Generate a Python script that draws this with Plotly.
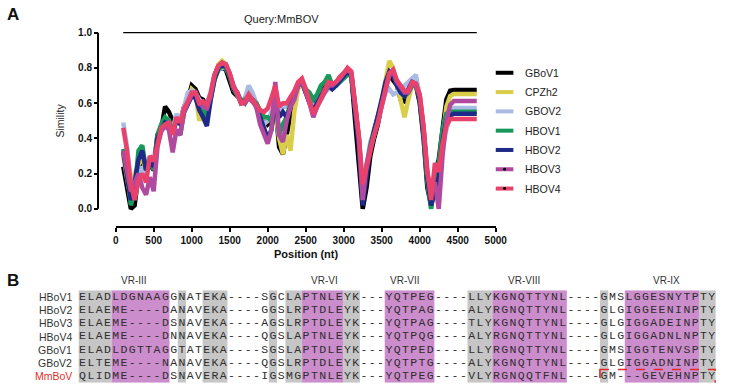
import plotly.graph_objects as go

W, H = 736, 389

# ---------------- Panel A data ----------------
POSITION = [100, 150, 200, 250, 300, 350, 400, 450, 500, 550,
            600, 650, 700, 750, 800, 850, 900, 950, 1000, 1050,
            1100, 1150, 1200, 1250, 1300, 1350, 1400, 1450, 1500, 1550,
            1600, 1650, 1700, 1750, 1800, 1850, 1900, 1950, 2000, 2050,
            2100, 2150, 2200, 2250, 2300, 2350, 2400, 2450, 2500, 2550,
            2600, 2650, 2700, 2750, 2800, 2850, 2900, 2950, 3000, 3050,
            3100, 3150, 3200, 3250, 3300, 3350, 3400, 3450, 3500, 3550,
            3600, 3650, 3700, 3750, 3800, 3850, 3900, 3950, 4000, 4050,
            4100, 4150, 4200, 4250, 4300, 4350, 4400, 4450, 4750]

GBOV1 = [0.24, 0.12, 0.00, 0.02, 0.20, 0.30, 0.22, 0.25, 0.22, 0.42,
         0.45, 0.58, 0.55, 0.50, 0.52, 0.50, 0.58, 0.62, 0.70, 0.68,
         0.63, 0.62, 0.58, 0.64, 0.74, 0.79, 0.80, 0.79, 0.72, 0.66,
         0.64, 0.62, 0.60, 0.64, 0.61, 0.60, 0.55, 0.52, 0.48, 0.50,
         0.60, 0.35, 0.31, 0.42, 0.55, 0.66, 0.70, 0.72, 0.66, 0.64,
         0.58, 0.62, 0.66, 0.69, 0.71, 0.70, 0.72, 0.74, 0.76, 0.79,
         0.76, 0.50, 0.28, 0.00, 0.12, 0.30, 0.40, 0.48, 0.60, 0.70,
         0.76, 0.73, 0.70, 0.62, 0.61, 0.66, 0.72, 0.70, 0.60, 0.40,
         0.12, 0.02, 0.20, 0.28, 0.45, 0.62, 0.67, 0.674, 0.674]

CPZH2 = [0.30, 0.18, 0.05, 0.20, 0.25, 0.30, 0.20, 0.28, 0.24, 0.40,
         0.44, 0.48, 0.47, 0.44, 0.50, 0.50, 0.56, 0.60, 0.68, 0.66,
         0.50, 0.56, 0.57, 0.64, 0.75, 0.82, 0.84, 0.82, 0.76, 0.68,
         0.65, 0.60, 0.60, 0.64, 0.61, 0.58, 0.55, 0.52, 0.50, 0.52,
         0.55, 0.40, 0.31, 0.42, 0.33, 0.55, 0.68, 0.72, 0.66, 0.60,
         0.55, 0.60, 0.65, 0.68, 0.70, 0.70, 0.72, 0.75, 0.77, 0.79,
         0.77, 0.58, 0.38, 0.10, 0.22, 0.34, 0.42, 0.50, 0.62, 0.74,
         0.84, 0.80, 0.70, 0.63, 0.52, 0.62, 0.70, 0.70, 0.63, 0.45,
         0.18, 0.00, 0.15, 0.22, 0.40, 0.58, 0.64, 0.652, 0.652]

GBOV2 = [0.49, 0.35, 0.15, 0.10, 0.18, 0.24, 0.17, 0.30, 0.28, 0.40,
         0.46, 0.49, 0.50, 0.45, 0.54, 0.50, 0.58, 0.66, 0.67, 0.66,
         0.62, 0.60, 0.60, 0.66, 0.76, 0.79, 0.80, 0.80, 0.76, 0.70,
         0.66, 0.62, 0.63, 0.70, 0.66, 0.60, 0.52, 0.48, 0.50, 0.55,
         0.62, 0.55, 0.58, 0.58, 0.60, 0.65, 0.70, 0.72, 0.67, 0.63,
         0.58, 0.60, 0.64, 0.66, 0.68, 0.68, 0.70, 0.72, 0.75, 0.78,
         0.76, 0.58, 0.40, 0.12, 0.26, 0.38, 0.44, 0.50, 0.58, 0.66,
         0.68, 0.65, 0.66, 0.68, 0.70, 0.72, 0.74, 0.76, 0.64, 0.46,
         0.20, 0.05, 0.22, 0.20, 0.34, 0.45, 0.52, 0.573, 0.573]

HBOV1 = [0.34, 0.22, 0.02, 0.10, 0.33, 0.36, 0.22, 0.28, 0.22, 0.42,
         0.48, 0.52, 0.50, 0.44, 0.44, 0.42, 0.55, 0.60, 0.64, 0.65,
         0.60, 0.57, 0.52, 0.62, 0.73, 0.79, 0.81, 0.80, 0.75, 0.68,
         0.65, 0.61, 0.62, 0.64, 0.62, 0.60, 0.56, 0.52, 0.52, 0.50,
         0.64, 0.42, 0.48, 0.52, 0.60, 0.64, 0.70, 0.73, 0.68, 0.66,
         0.62, 0.65, 0.70, 0.72, 0.76, 0.70, 0.70, 0.72, 0.74, 0.76,
         0.76, 0.58, 0.40, 0.08, 0.24, 0.36, 0.45, 0.52, 0.60, 0.70,
         0.76, 0.76, 0.70, 0.66, 0.64, 0.66, 0.70, 0.70, 0.62, 0.42,
         0.15, 0.00, 0.18, 0.26, 0.45, 0.54, 0.55, 0.551, 0.551]

HBOV2 = [0.32, 0.20, 0.05, 0.15, 0.28, 0.33, 0.22, 0.27, 0.24, 0.40,
         0.45, 0.49, 0.48, 0.43, 0.50, 0.48, 0.55, 0.60, 0.64, 0.63,
         0.56, 0.52, 0.47, 0.62, 0.74, 0.80, 0.82, 0.81, 0.76, 0.68,
         0.66, 0.60, 0.61, 0.64, 0.62, 0.58, 0.52, 0.45, 0.40, 0.45,
         0.60, 0.52, 0.55, 0.52, 0.58, 0.64, 0.70, 0.72, 0.66, 0.60,
         0.56, 0.60, 0.64, 0.68, 0.70, 0.68, 0.70, 0.73, 0.76, 0.78,
         0.76, 0.56, 0.35, 0.02, 0.18, 0.34, 0.44, 0.52, 0.62, 0.72,
         0.78, 0.76, 0.70, 0.66, 0.64, 0.68, 0.72, 0.71, 0.62, 0.44,
         0.18, 0.02, 0.10, 0.18, 0.38, 0.50, 0.53, 0.54, 0.54]

HBOV3 = [0.33, 0.22, 0.10, 0.15, 0.20, 0.12, 0.08, 0.18, 0.10, 0.35,
         0.44, 0.47, 0.45, 0.32, 0.45, 0.42, 0.55, 0.60, 0.65, 0.66,
         0.60, 0.58, 0.57, 0.64, 0.76, 0.81, 0.83, 0.82, 0.77, 0.70,
         0.65, 0.60, 0.60, 0.63, 0.61, 0.58, 0.48, 0.42, 0.37, 0.45,
         0.72, 0.42, 0.38, 0.50, 0.58, 0.62, 0.70, 0.73, 0.67, 0.60,
         0.52, 0.58, 0.62, 0.66, 0.70, 0.70, 0.72, 0.74, 0.77, 0.79,
         0.77, 0.58, 0.40, 0.05, 0.25, 0.35, 0.42, 0.49, 0.59, 0.68,
         0.76, 0.78, 0.72, 0.69, 0.66, 0.66, 0.71, 0.70, 0.64, 0.46,
         0.20, 0.10, 0.15, 0.00, 0.30, 0.50, 0.59, 0.612, 0.612]

HBOV4 = [0.46, 0.33, 0.14, 0.05, 0.16, 0.20, 0.15, 0.30, 0.27, 0.37,
         0.46, 0.48, 0.49, 0.42, 0.52, 0.49, 0.57, 0.61, 0.66, 0.66,
         0.60, 0.61, 0.59, 0.66, 0.76, 0.81, 0.83, 0.82, 0.77, 0.69,
         0.66, 0.60, 0.61, 0.65, 0.62, 0.59, 0.56, 0.55, 0.57, 0.63,
         0.70, 0.58, 0.60, 0.60, 0.63, 0.67, 0.72, 0.74, 0.68, 0.61,
         0.54, 0.58, 0.63, 0.67, 0.72, 0.71, 0.72, 0.75, 0.77, 0.80,
         0.78, 0.60, 0.41, 0.14, 0.24, 0.35, 0.42, 0.49, 0.59, 0.69,
         0.77, 0.79, 0.73, 0.70, 0.67, 0.67, 0.72, 0.71, 0.65, 0.47,
         0.22, 0.05, 0.26, 0.21, 0.37, 0.47, 0.51, 0.51, 0.51]

SERIES_NAMES = ["GBoV1", "CPZh2", "GBOV2", "HBOV1", "HBOV2", "HBOV3", "HBOV4"]
SERIES_VALUES = [GBOV1, CPZH2, GBOV2, HBOV1, HBOV2, HBOV3, HBOV4]
SERIES_COLORS = ["#000000", "#d9cd4a", "#a9bbe2", "#18985a", "#1f2a86", "#b04a9e", "#e8426c"]
SERIES_DOT = [False, False, False, False, False, True, True]

X_TICKS = [0, 500, 1000, 1500, 2000, 2500, 3000, 3500, 4000, 4500, 5000]
Y_TICKS = [0.0, 0.2, 0.4, 0.6, 0.8, 1.0]
Y_TICK_LABELS = ["0.0", "0.2", "0.4", "0.6", "0.8", "1.0"]
QUERY_RANGE = [100, 4750]
QUERY_LABEL = "Query:MmBOV"

# ---------------- Panel B data ----------------
ALIGN_NAMES = ["HBoV1", "HBoV2", "HBoV3", "HBoV4", "GBoV1", "GBoV2", "MmBoV"]
ALIGN_SEQS = [
    "ELADLDGNAAGGNATEKA----SGCLAPTNLEYK---YQTPEG----LLYKGNQTTYNL----GMSLGGESNYTPTY",
    "ELAEME----DANAVEKA----GGSLRPTDLEYK---YQTPAG----ALYRGNQTTYNL----GLGIGGEENINPTY",
    "ELAEME----DSNAVEKA----AGSLRPTDLEYK---YQTPAG----TLYKGNQTTYNL----GLGIGGADEINPTY",
    "ELAEME----DNNAVEKA----QGSLAPTNLEYK---YQTPQG----ALYRGNQTTYNL----GLGIGGADNLNPTY",
    "ELADLDGTTAGGTATEKA----SGSLAPTDLEYK---YQTPED----LLYRGNQTTYNL----GMSIGGTENVSPTY",
    "ELTEME----NANAVEKA----QGSLRPTDLEYK---YQTPTG----ALYKGNQTTYNL----GLGIGGADNINPTY",
    "QLIDME----DSNAVERA----IGSMGPTNLEYK---YQTPEG----VLYRGNQQTFNL----GM---GEVEHNPTY",
]
NAME_COLORS = ["#333333"] * 6 + ["#e0302c"]
GRAY_COLS = [0, 1, 2, 3, 12, 15, 16, 17, 23, 25, 26, 32, 33, 47, 48, 49, 63, 75, 76]
MAGENTA_COLS = [4, 5, 6, 7, 8, 9, 10, 27, 28, 29, 30, 31, 37, 38, 39, 40, 41, 42,
                50, 51, 52, 53, 54, 55, 56, 57, 58, 66, 67, 68, 69, 70, 71, 72, 73, 74]
REGION_LABELS = ["VR-III", "VR-VI", "VR-VII", "VR-VIII", "VR-IX"]
REGION_CENTERS = [6.2, 29.2, 38.9, 53.3, 70.6]
BOXED_ROW = 6
BOXED_COLS = [63, 76]


def px(p):
    return p / W


def py(p):
    return 1 - p / H


FONT = "Arial, Liberation Sans, sans-serif"
MONO = "Liberation Mono, Courier New, monospace"

fig = go.Figure()

# ---- similarity curves ----
for name, vals, col in zip(SERIES_NAMES, SERIES_VALUES, SERIES_COLORS):
    fig.add_trace(go.Scatter(x=POSITION, y=vals, mode="lines", name=name,
                             line=dict(color=col, width=4.5, shape="linear"),
                             showlegend=False, hoverinfo="skip",
                             xaxis="x", yaxis="y"))

# ---- alignment text ----
n_cols = len(ALIGN_SEQS[0])
for r, seq in enumerate(ALIGN_SEQS):
    fig.add_trace(go.Scatter(x=list(range(len(seq))), y=[r] * len(seq), mode="text",
                             text=list(seq), textposition="middle center",
                             textfont=dict(family=MONO, size=11.5, color="#2e2e2e"),
                             showlegend=False, hoverinfo="skip",
                             xaxis="x2", yaxis="y2"))

shapes = []
annotations = []

# y axis line from 0 to 1
shapes.append(dict(type="line", xref="paper", yref="y", x0=px(97), x1=px(97),
                   y0=Y_TICKS[0], y1=Y_TICKS[-1], line=dict(color="black", width=2)))
# query line
shapes.append(dict(type="line", xref="x", yref="y", x0=QUERY_RANGE[0], x1=QUERY_RANGE[1],
                   y0=1.0, y1=1.0, line=dict(color="black", width=1.3)))
annotations.append(dict(text=QUERY_LABEL, xref="x", yref="paper", x=2180, y=py(17),
                        showarrow=False, font=dict(family=FONT, size=11, color="#222"),
                        xanchor="center", yanchor="middle"))

# legend (manual)
leg_y = [71.5, 91, 110.5, 130, 149.5, 169, 188.5]
for name, col, dot, yy in zip(SERIES_NAMES, SERIES_COLORS, SERIES_DOT, leg_y):
    shapes.append(dict(type="line", xref="paper", yref="paper", x0=px(503), x1=px(521),
                       y0=py(yy), y1=py(yy), line=dict(color=col, width=4)))
    if dot:
        shapes.append(dict(type="circle", xref="paper", yref="paper",
                           x0=px(510.5), x1=px(513.5), y0=py(yy + 1.5), y1=py(yy - 1.5),
                           fillcolor="black", line=dict(width=0)))
    annotations.append(dict(text=name, xref="paper", yref="paper", x=px(531), y=py(yy),
                            showarrow=False, xanchor="left", yanchor="middle",
                            font=dict(family=FONT, size=10.5, color="#222")))

# axis titles and panel labels
annotations.append(dict(text="Simility", xref="paper", yref="paper", x=px(58), y=py(120),
                        textangle=-90, showarrow=False, xanchor="center", yanchor="middle",
                        font=dict(family=FONT, size=10.5, color="#222")))
annotations.append(dict(text="<b>Position (nt)</b>", xref="paper", yref="paper", x=px(309),
                        y=py(255), showarrow=False, xanchor="center", yanchor="middle",
                        font=dict(family=FONT, size=11, color="#111")))
annotations.append(dict(text="<b>A</b>", xref="paper", yref="paper", x=px(2), y=py(1),
                        showarrow=False, xanchor="left", yanchor="top",
                        font=dict(family=FONT, size=17, color="#111")))
annotations.append(dict(text="<b>B</b>", xref="paper", yref="paper", x=px(2), y=py(270),
                        showarrow=False, xanchor="left", yanchor="top",
                        font=dict(family=FONT, size=17, color="#111")))


# highlight columns
def runs(cols):
    cols = sorted(cols)
    out = []
    start = prev = cols[0]
    for c in cols[1:]:
        if c == prev + 1:
            prev = c
            continue
        out.append((start, prev))
        start = prev = c
    out.append((start, prev))
    return out


n_rows = len(ALIGN_SEQS)
for cols, colr in ((GRAY_COLS, "#c6c6c6"), (MAGENTA_COLS, "#cc8dcc")):
    for a, b in runs(cols):
        shapes.append(dict(type="rect", xref="x2", yref="y2", x0=a - 0.5, x1=b + 0.5,
                           y0=-0.5, y1=n_rows - 0.5, fillcolor=colr, line=dict(width=0),
                           layer="below"))

# red dashed box
shapes.append(dict(type="rect", xref="x2", yref="y2", x0=BOXED_COLS[0] - 0.5,
                   x1=BOXED_COLS[1] + 0.45, y0=BOXED_ROW - 0.5, y1=BOXED_ROW + 0.62,
                   line=dict(color="#e02a2a", width=1.6, dash="dash"), fillcolor="rgba(0,0,0,0)"))

# sequence names
for r, (nm, nc) in enumerate(zip(ALIGN_NAMES, NAME_COLORS)):
    annotations.append(dict(text=nm, xref="paper", yref="y2", x=px(72.5), y=r,
                            showarrow=False, xanchor="right", yanchor="middle",
                            font=dict(family=FONT, size=10.5, color=nc)))

# region labels
for lab, c in zip(REGION_LABELS, REGION_CENTERS):
    annotations.append(dict(text=lab, xref="x2", yref="paper", x=c, y=py(281),
                            showarrow=False, xanchor="center", yanchor="middle",
                            font=dict(family=FONT, size=10, color="#333")))

y_lo, y_hi = -0.02, 1.02
fig.update_layout(
    width=W, height=H, autosize=False,
    margin=dict(l=0, r=0, t=0, b=0, pad=0),
    paper_bgcolor="white", plot_bgcolor="rgba(0,0,0,0)",
    showlegend=False,
    xaxis=dict(domain=[px(115), px(503)], range=[0, 5000], tickvals=X_TICKS,
               ticks="outside", ticklen=4, tickwidth=2, tickcolor="black",
               showline=True, linewidth=2, linecolor="black", showgrid=False,
               zeroline=False, anchor="free", position=py(227),
               tickfont=dict(family=FONT, size=10, color="#111", weight="bold")),
    yaxis=dict(domain=[py(209 + 178 * 0.02), py(209 - 178 * 1.02)], range=[y_lo, y_hi],
               tickvals=Y_TICKS, ticktext=Y_TICK_LABELS,
               ticks="outside", ticklen=4, tickwidth=2, tickcolor="black",
               showline=False, showgrid=False, zeroline=False,
               anchor="free", position=px(97),
               tickfont=dict(family=FONT, size=10, color="#111", weight="bold")),
    xaxis2=dict(domain=[px(77), px(77 + 8.45 * n_cols)], range=[-0.5, n_cols - 0.5],
                visible=False, anchor="y2"),
    yaxis2=dict(domain=[py(298 - 13.33 * 0.5 + 13.33 * n_rows), py(298 - 13.33 * 0.5)],
                range=[n_rows - 0.5, -0.5], visible=False, anchor="x2"),
    shapes=shapes,
    annotations=annotations,
)

fig.write_html("out.html", include_plotlyjs=True, config={"displayModeBar": False},
               post_script="document.body.style.margin='0';document.body.style.overflow='hidden';")
